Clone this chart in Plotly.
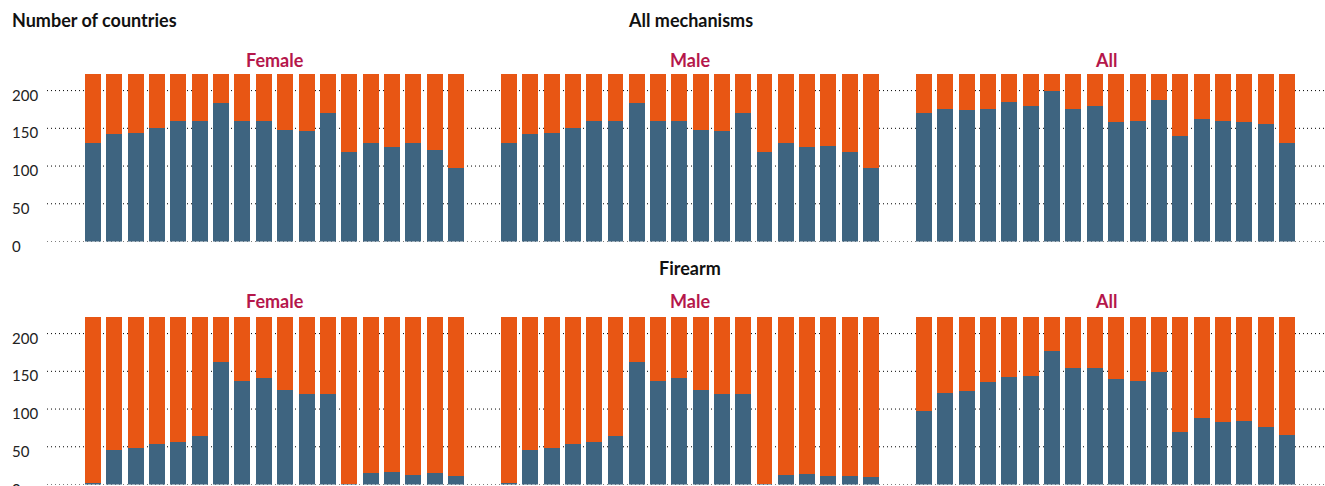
import plotly.graph_objects as go

# ---------------- data ----------------
bar_ids = [str(i) for i in range(1, 19)]
y_ticks = [0, 50, 100, 150, 200]
total_countries = 222

panels = ["Female", "Male", "All"]
sections = ["All mechanisms", "Firearm"]

# blue part (lower segment) per panel
allmech_female_blue = [130, 143, 144, 151, 160, 160, 184, 160, 160, 148, 146, 170, 118, 131, 125, 130, 121, 98]
allmech_male_blue = [130, 143, 144, 151, 160, 160, 184, 160, 160, 148, 146, 170, 118, 131, 125, 127, 119, 97]
allmech_all_blue = [170, 176, 174, 176, 185, 180, 199, 175, 179, 159, 160, 188, 140, 162, 160, 159, 156, 130]

firearm_female_blue = [2, 46, 48, 54, 56, 64, 163, 137, 141, 125, 120, 120, 1, 15, 17, 13, 15, 11]
firearm_male_blue = [2, 46, 48, 54, 56, 64, 163, 137, 141, 125, 120, 120, 1, 13, 14, 11, 11, 10]
firearm_all_blue = [97, 121, 124, 136, 142, 144, 177, 154, 154, 140, 137, 149, 70, 88, 83, 84, 76, 66]

# orange part (upper segment) = remaining countries
def remainder(vals):
    return [total_countries - v for v in vals]

data = [
    [allmech_female_blue, allmech_male_blue, allmech_all_blue],
    [firearm_female_blue, firearm_male_blue, firearm_all_blue],
]

BLUE = "#3e6480"
ORANGE = "#e85614"
CRIMSON = "#b5174b"
FONT = "Lato"

W, H = 1325, 486
x_dom_px = [(82.3, 466.7), (498.4, 881.6), (913.3, 1297.7)]
y_dom_px = [(74.0, 241.5), (317.0, 484.5)]

fig = go.Figure()
layout = {}
shapes = []
annotations = []

for r in range(2):
    for c in range(3):
        idx = r * 3 + c + 1
        xname = "x" if idx == 1 else f"x{idx}"
        yname = "y" if idx == 1 else f"y{idx}"
        blue = data[r][c]
        fig.add_trace(go.Bar(x=bar_ids, y=blue, marker_color=BLUE, marker_line_width=0,
                             xaxis=xname, yaxis=yname, showlegend=False))
        fig.add_trace(go.Bar(x=bar_ids, y=remainder(blue), marker_color=ORANGE, marker_line_width=0,
                             xaxis=xname, yaxis=yname, showlegend=False))
        xk = "xaxis" if idx == 1 else f"xaxis{idx}"
        yk = "yaxis" if idx == 1 else f"yaxis{idx}"
        layout[xk] = dict(domain=[x_dom_px[c][0] / W, x_dom_px[c][1] / W], showticklabels=False,
                          showgrid=False, zeroline=False, showline=False, ticks="",
                          anchor=yname, fixedrange=True)
        layout[yk] = dict(domain=[1 - y_dom_px[r][1] / H, 1 - y_dom_px[r][0] / H], range=[0, total_countries],
                          showticklabels=False, showgrid=False, zeroline=False, showline=False,
                          ticks="", anchor=xname, fixedrange=True)
        # subtitle
        annotations.append(dict(text=f"<b>{panels[c]}</b>", xref="paper", yref="paper",
                                x=(x_dom_px[c][0] + x_dom_px[c][1]) / 2 / W,
                                y=1 - (60 if r == 0 else 301) / H, xanchor="center", yanchor="middle",
                                showarrow=False, font=dict(family=FONT, size=18, color=CRIMSON)))
    yref = "y" if r == 0 else "y4"
    for t in y_ticks:
        shapes.append(dict(type="line", xref="paper", yref=yref, x0=47 / W, x1=1, y0=t, y1=t,
                           line=dict(color="#000", width=1, dash="1px,3px"), layer="below"))
        annotations.append(dict(text=str(t), xref="paper", yref=yref, x=10 / W, y=t,
                                xanchor="left", yanchor="middle", yshift=-4, showarrow=False,
                                font=dict(family=FONT, size=15, color="#222")))

annotations.append(dict(text="<b>Number of countries</b>", xref="paper", yref="paper", x=10 / W, y=1 - 20 / H,
                        xanchor="left", yanchor="middle", showarrow=False,
                        font=dict(family=FONT, size=18, color="#111")))
for r, s in enumerate(sections):
    annotations.append(dict(text=f"<b>{s}</b>", xref="paper", yref="paper", x=690 / W,
                            y=1 - (20 if r == 0 else 268) / H, xanchor="center", yanchor="middle",
                            showarrow=False, font=dict(family=FONT, size=18, color="#111")))

fig.update_layout(width=W, height=H, margin=dict(l=0, r=0, t=0, b=0), barmode="stack", bargap=0.25,
                  paper_bgcolor="white", plot_bgcolor="rgba(0,0,0,0)", shapes=shapes,
                  annotations=annotations, **layout)

fig.write_html("out.html", config={"displayModeBar": False},
               post_script="document.body.style.margin='0';document.body.style.overflow='hidden';")
